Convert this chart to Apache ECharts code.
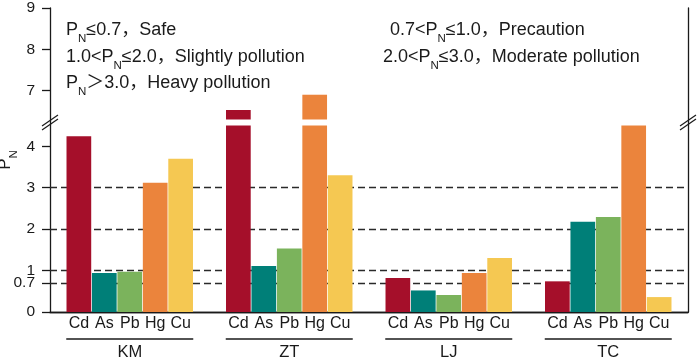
<!DOCTYPE html>
<html>
<head>
<meta charset="utf-8">
<script src="https://cdn.jsdelivr.net/npm/echarts@6.0.0/dist/echarts.min.js"></script>
<style>html,body{margin:0;padding:0;background:#fff}#chart{width:699px;height:361px}</style>
</head>
<body>
<div id="chart"></div>
<script>
// data
var sites = ['KM', 'ZT', 'LJ', 'TC'];
var elements = ['Cd', 'As', 'Pb', 'Hg', 'Cu'];
var Cd = [4.24, 6.53, 0.82, 0.74];
var As = [0.94, 1.11, 0.52, 2.18];
var Pb = [0.97, 1.53, 0.41, 2.29];
var Hg = [3.12, 6.90, 0.94, 4.50];
var Cu = [3.70, 3.30, 1.30, 0.36];
var lowerTicks = [0, 0.7, 1, 2, 3, 4];
var upperTicks = [7, 8, 9];
var thresholds = [0.7, 1, 2, 3];
var lowerMax = 4.5, upperMin = 6.3, upperMax = 9;

var values = [Cd, As, Pb, Hg, Cu];
var colors = ['#a50f2a', '#007f78', '#7bb35c', '#eb843c', '#f5c852'];
var font = "Arial, 'Liberation Sans', 'Noto Sans CJK SC', sans-serif";
var ink = '#1a1a1a';

// layout
var L = 50, R = 11, T = 8, B = 49, upperH = 111.5, gap = 6;
var lowerTop = T + upperH + gap;
var breakY = T + upperH + gap / 2;

var subRich = {
  n: { fontSize: 11.5, verticalAlign: 'bottom', height: 5, lineHeight: 22, fontFamily: font, color: ink }
};

var chart = echarts.init(document.getElementById('chart'));

var series = [];
elements.forEach(function (el, i) {
  var s = {
    name: el,
    type: 'bar',
    xAxisIndex: 0,
    yAxisIndex: 0,
    data: values[i],
    barGap: '3%',
    barCategoryGap: '20.7%',
    itemStyle: { color: colors[i] },
    label: {
      show: true, position: 'bottom', distance: 4, formatter: '{a}',
      fontSize: 16, color: ink, fontFamily: font
    },
    silent: true
  };
  if (i === 0) {
    s.markLine = {
      silent: true, symbol: 'none', z: 1,
      label: { show: false },
      lineStyle: { type: [7, 4], color: '#2a2a2a', width: 1.4 },
      data: thresholds.map(function (v) { return { yAxis: v }; })
    };
  }
  series.push(s);
  series.push({
    name: el,
    type: 'bar',
    xAxisIndex: 1,
    yAxisIndex: 1,
    data: values[i].map(function (v) { return v > upperMin ? v : '-'; }),
    barGap: '3%',
    barCategoryGap: '20.7%',
    itemStyle: { color: colors[i] },
    silent: true
  });
});

function breakMark(cx) {
  return [-2, 2].map(function (d) {
    return {
      type: 'line', z: 100,
      shape: { x1: cx - 8, y1: breakY + d + 5.5, x2: cx + 8, y2: breakY + d - 5.5 },
      style: { stroke: ink, lineWidth: 1.2 }
    };
  });
}

function note(x, y, text) {
  return {
    type: 'text', x: x, y: y, z: 100,
    style: {
      text: text, fontSize: 18, fontFamily: font, fill: ink,
      lineHeight: 22, verticalAlign: 'middle', rich: subRich
    }
  };
}

chart.setOption({
  animation: false,
  textStyle: { fontFamily: font },
  grid: [
    { left: L, right: R, top: lowerTop, bottom: B, outerBoundsMode: 'none' },
    { left: L, right: R, top: T, height: upperH, outerBoundsMode: 'none' },
    { left: L, right: R, top: T, bottom: B, outerBoundsMode: 'none' }
  ],
  xAxis: [
    {
      type: 'category', gridIndex: 0, data: sites,
      axisLine: { lineStyle: { color: ink, width: 1.3 } },
      axisTick: { show: false },
      axisLabel: {
        interval: 0, margin: 26,
        formatter: function (v) { return '{u|}\n{g|' + v + '}'; },
        rich: {
          u: { width: 127, height: 1.5, lineHeight: 2, fontSize: 1, backgroundColor: ink },
          g: { fontSize: 16.5, lineHeight: 25, color: ink, fontFamily: font }
        }
      }
    },
    { type: 'category', gridIndex: 1, data: sites, show: false },
    {
      type: 'category', gridIndex: 2, data: sites, position: 'top',
      axisLine: { lineStyle: { color: ink, width: 1.3 } },
      axisTick: { show: false }, axisLabel: { show: false }
    }
  ],
  yAxis: [
    {
      type: 'value', gridIndex: 0, min: 0, max: lowerMax,
      axisLine: { show: false },
      axisTick: { show: true, length: 8, customValues: lowerTicks, lineStyle: { color: ink, width: 1.3 } },
      axisLabel: { customValues: lowerTicks, margin: 15, fontSize: 15.5, color: ink, fontFamily: font },
      splitLine: { show: false }
    },
    {
      type: 'value', gridIndex: 1, min: upperMin, max: upperMax,
      axisLine: { show: false },
      axisTick: { show: true, length: 8, customValues: upperTicks, lineStyle: { color: ink, width: 1.3 } },
      axisLabel: { customValues: upperTicks, margin: 15, fontSize: 15.5, color: ink, fontFamily: font },
      splitLine: { show: false }
    },
    {
      type: 'value', gridIndex: 2, min: 0, max: 1, position: 'left',
      axisLine: { show: true, lineStyle: { color: ink, width: 1.3 } },
      axisTick: { show: false }, axisLabel: { show: false }, splitLine: { show: false },
      name: '{p|P}{n|N}', nameLocation: 'middle', nameGap: 34,
      nameTextStyle: {
        fontSize: 17, color: ink, fontFamily: font, lineHeight: 22,
        rich: { p: { fontSize: 17, lineHeight: 22, fontFamily: font, color: ink }, n: subRich.n }
      }
    },
    {
      type: 'value', gridIndex: 2, min: 0, max: 1, position: 'right',
      axisLine: { show: true, lineStyle: { color: ink, width: 1.3 } },
      axisTick: { show: false }, axisLabel: { show: false }, splitLine: { show: false }
    }
  ],
  graphic: [].concat(
    breakMark(L),
    breakMark(699 - R),
    [
      note(66, 30, 'P{n|N}≤0.7，Safe'),
      note(66, 57, '1.0<P{n|N}≤2.0，Slightly pollution'),
      note(66, 83, 'P{n|N}＞3.0，Heavy pollution'),
      note(390, 30, '0.7<P{n|N}≤1.0，Precaution'),
      note(383, 57, '2.0<P{n|N}≤3.0，Moderate pollution')
    ]
  ),
  series: series
});
</script>
</body>
</html>
